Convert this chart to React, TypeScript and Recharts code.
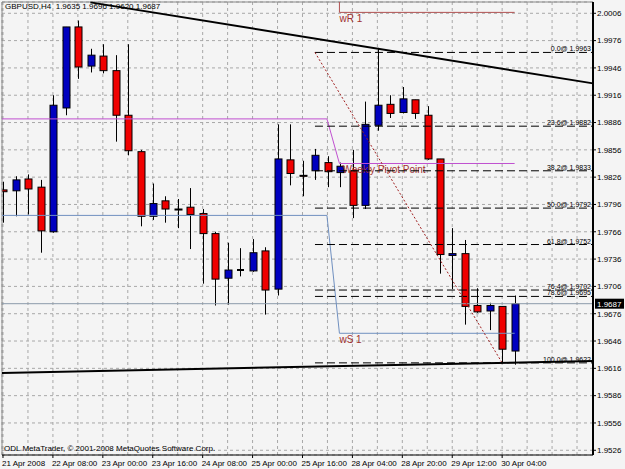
import { ComposedChart, Bar, XAxis, YAxis, CartesianGrid, ReferenceLine } from 'recharts';

// H4 bars, 21 Apr 16:00 .. 30 Apr 08:00
const opens = [
  1.9812, 1.9811, 1.9824, 1.9815, 1.9766, 1.9902, 1.9991, 1.9948, 1.9959, 1.9943,
  1.9894, 1.9854, 1.9783, 1.9800, 1.9791, 1.9793, 1.9786, 1.9764, 1.9715, 1.9724,
  1.9723, 1.9745, 1.9703, 1.9845, 1.9828, 1.9833, 1.9842, 1.9831, 1.9833, 1.9795,
  1.9883, 1.9906, 1.9897, 1.9911, 1.9894, 1.9846, 1.9740, 1.9742, 1.9685, 1.9679,
  1.9684, 1.9635,
];
const highs = [
  1.9821, 1.9827, 1.9829, 1.9823, 1.9916, 1.9991, 1.9998, 1.9967, 1.9972, 1.9960,
  1.9972, 1.9856, 1.9819, 1.9805, 1.9802, 1.9814, 1.9791, 1.9766, 1.9754, 1.9748,
  1.9758, 1.9749, 1.9884, 1.9884, 1.9844, 1.9857, 1.9849, 1.9842, 1.9856, 1.9909,
  1.9968, 1.9916, 1.9925, 1.9911, 1.9904, 1.9846, 1.9770, 1.9757, 1.9704, 1.9688,
  1.9684, 1.9696,
];
const lows = [
  1.9776, 1.9783, 1.9785, 1.9743, 1.9765, 1.9894, 1.9934, 1.9941, 1.9940, 1.9865,
  1.9850, 1.9772, 1.9779, 1.9776, 1.9770, 1.9747, 1.9709, 1.9685, 1.9686, 1.9717,
  1.9722, 1.9675, 1.9696, 1.9817, 1.9805, 1.9823, 1.9815, 1.9815, 1.9781, 1.9791,
  1.9877, 1.9891, 1.9896, 1.9890, 1.9845, 1.9720, 1.9703, 1.9664, 1.9677, 1.9658,
  1.9622, 1.9620,
];
const closes = [
  1.9810, 1.9823, 1.9813, 1.9767, 1.9905, 1.9991, 1.9947, 1.9960, 1.9943, 1.9894,
  1.9855, 1.9783, 1.9797, 1.9791, 1.9790, 1.9785, 1.9764, 1.9714, 1.9724, 1.9724,
  1.9743, 1.9702, 1.9846, 1.9830, 1.9827, 1.9850, 1.9832, 1.9838, 1.9795, 1.9884,
  1.9905, 1.9896, 1.9912, 1.9896, 1.9846, 1.9741, 1.9742, 1.9684, 1.9678, 1.9685,
  1.9637, 1.9687,
];

const timeLabels = [
  '21 Apr 2008', '22 Apr 08:00', '23 Apr 00:00', '23 Apr 16:00', '24 Apr 08:00', '25 Apr 00:00',
  '25 Apr 16:00', '28 Apr 04:00', '28 Apr 20:00', '29 Apr 12:00', '30 Apr 04:00',
];

const priceTicks = [
  2.0006, 1.9976, 1.9946, 1.9916, 1.9886, 1.9856, 1.9826, 1.9796, 1.9766, 1.9736,
  1.9706, 1.9676, 1.9646, 1.9616, 1.9586, 1.9556, 1.9526,
];

const fibRatios = ['0.0', '23.6', '38.2', '50.0', '61.8', '76.4', '78.6', '100.0'];
const fibPrices = [1.9963, 1.9882, 1.9833, 1.9792, 1.9752, 1.9702, 1.9695, 1.9622];

// weekly pivot levels: previous week, current week
const pivotLevels = [1.9890, 1.9841];
const wS1Levels = [1.9784, 1.96545];
const wR1Level = 2.0007;

const lastPrice = 1.9687;

const xDomain = [-0.08, 47.28];
const yDomain = [1.95208, 2.00184];
const weekStart = 26.96;

const data = opens.map((o, i) => ({
  i,
  open: o,
  high: highs[i],
  low: lows[i],
  close: closes[i],
  range: [lows[i], highs[i]],
}));

const FONT = '"Liberation Sans", Arial, sans-serif';

const Candle = (props: any) => {
  const { x, y, width, height, payload } = props;
  const { open, close, high, low } = payload;
  const cx = Math.round(x + width / 2) + 0.5;
  const span = high - low;
  const py = (p: number) => (span > 0 ? y + ((high - p) / span) * height : y);
  const top = py(Math.max(open, close));
  const bot = py(Math.min(open, close));
  const hw = 3.5;
  if (Math.abs(open - close) < 0.00005) {
    return (
      <g>
        <line x1={cx} x2={cx} y1={y} y2={y + height} stroke="#000" strokeWidth={1} />
        <line x1={cx - hw} x2={cx + hw} y1={top} y2={top} stroke="#000" strokeWidth={2} />
      </g>
    );
  }
  return (
    <g>
      <line x1={cx} x2={cx} y1={y} y2={y + height} stroke="#000" strokeWidth={1} />
      <rect
        x={cx - hw}
        y={top}
        width={hw * 2}
        height={Math.max(bot - top, 1)}
        fill={close > open ? '#0000bf' : '#f00000'}
        stroke="#000"
        strokeWidth={1}
      />
    </g>
  );
};

const TimeTick = (props: any) => {
  const { x, y, payload } = props;
  const v = payload.value;
  if (v % 4 !== 0 || v / 4 >= timeLabels.length) return <g />;
  return (
    <g>
      <line x1={x} x2={x} y1={y - 5} y2={y - 2} stroke="#000" />
      <text x={x - 1} y={y + 6} fontSize={8} fontFamily={FONT} fill="#000">
        {timeLabels[v / 4]}
      </text>
    </g>
  );
};

const fibLabel = (text: string) => (p: any) => {
  const vb = p.viewBox;
  return (
    <text x={vb.x + vb.width - 2} y={vb.y - 1} textAnchor="end" fontSize={7} fontFamily={FONT} fill="#000">
      {text}
    </text>
  );
};

const belowLabel = (text: string, dx: number) => (p: any) => {
  const vb = p.viewBox;
  return (
    <text x={vb.x + dx} y={vb.y + 10} fontSize={10} fontFamily={FONT} fill="#a03030">
      {text}
    </text>
  );
};

const priceBox = (p: any) => {
  const vb = p.viewBox;
  const y = vb.y;
  return (
    <g>
      <rect x={vb.x + vb.width + 2} y={y - 5} width={29} height={10} fill="#000" />
      <text x={vb.x + vb.width + 4} y={y + 3} fontSize={8} fontFamily={FONT} fill="#fff">
        {lastPrice.toFixed(4)}
      </text>
    </g>
  );
};

const gridTicks = Array.from({ length: 24 }, (_, k) => k * 2);

export default function App() {
  return (
    <div style={{ position: 'absolute', left: 0, top: 0, width: 625, height: 469, background: '#f4f4f4' }}>
      <ComposedChart
        width={625}
        height={469}
        data={data}
        margin={{ top: 2, right: 0, bottom: 0, left: 2 }}
      >
        <CartesianGrid stroke="#a8a8a8" strokeDasharray="3 3" />
        <XAxis
          dataKey="i"
          type="number"
          domain={xDomain}
          allowDataOverflow
          ticks={gridTicks}
          interval={0}
          height={14}
          tickSize={3}
          tickLine={false}
          tick={<TimeTick />}
          axisLine={{ stroke: '#000', strokeWidth: 1 }}
        />
        <YAxis
          orientation="right"
          type="number"
          domain={yDomain}
          allowDataOverflow
          ticks={priceTicks}
          interval={0}
          width={32}
          tickSize={3}
          tickMargin={1}
          tickLine={{ stroke: '#000' }}
          axisLine={{ stroke: '#000', strokeWidth: 2 }}
          tick={{ fontSize: 8, fontFamily: FONT, fill: '#000' }}
          tickFormatter={(v: number) => v.toFixed(4)}
        />
        <ReferenceLine y={yDomain[1]} stroke="#888" />
        <ReferenceLine x={xDomain[0]} stroke="#888" />

        {/* last price line */}
        <ReferenceLine y={lastPrice} stroke="#8c9bab" label={priceBox} />

        {/* weekly pivot */}
        <ReferenceLine segment={[{ x: xDomain[0], y: pivotLevels[0] }, { x: weekStart - 1, y: pivotLevels[0] }]} stroke="#c050d0" />
        <ReferenceLine segment={[{ x: weekStart - 1, y: pivotLevels[0] }, { x: weekStart, y: pivotLevels[1] }]} stroke="#c050d0" />
        <ReferenceLine
          segment={[{ x: weekStart, y: pivotLevels[1] }, { x: 41, y: pivotLevels[1] }]}
          stroke="#c050d0"
          label={belowLabel('Weekly Pivot Point', 3)}
        />

        {/* wS1 */}
        <ReferenceLine segment={[{ x: xDomain[0], y: wS1Levels[0] }, { x: weekStart - 1, y: wS1Levels[0] }]} stroke="#7090c0" />
        <ReferenceLine segment={[{ x: weekStart - 1, y: wS1Levels[0] }, { x: weekStart, y: wS1Levels[1] }]} stroke="#7090c0" />
        <ReferenceLine
          segment={[{ x: weekStart, y: wS1Levels[1] }, { x: 41, y: wS1Levels[1] }]}
          stroke="#7090c0"
          label={belowLabel('wS 1', 0)}
        />

        {/* wR1 */}
        <ReferenceLine segment={[{ x: weekStart, y: yDomain[1] }, { x: weekStart, y: wR1Level }]} stroke="#b05050" />
        <ReferenceLine
          segment={[{ x: weekStart, y: wR1Level }, { x: 41, y: wR1Level }]}
          stroke="#b05050"
          label={belowLabel('wR 1', 0)}
        />

        {/* fibonacci retracement */}
        {fibPrices.map((p, k) => (
          <ReferenceLine
            key={'fib' + k}
            segment={[{ x: 25, y: p }, { x: xDomain[1], y: p }]}
            stroke="#000"
            strokeDasharray="8 4"
            label={fibLabel(`${fibRatios[k]}@ ${p.toFixed(4)}`)}
          />
        ))}
        <ReferenceLine
          segment={[{ x: 25, y: fibPrices[0] }, { x: 40, y: fibPrices[7] }]}
          stroke="#a02020"
          strokeDasharray="2 2"
        />

        {/* trend lines */}
        <ReferenceLine segment={[{ x: 7, y: 2.0018 }, { x: xDomain[1], y: 1.9929 }]} stroke="#000" strokeWidth={2} />
        <ReferenceLine segment={[{ x: xDomain[0], y: 1.9611 }, { x: xDomain[1], y: 1.9624 }]} stroke="#000" strokeWidth={2} />

        <Bar dataKey="range" barSize={7} shape={<Candle />} isAnimationActive={false} />
      </ComposedChart>
      <div
        style={{ position: 'absolute', left: 5, top: 2, fontSize: 8, fontFamily: FONT, color: '#000', whiteSpace: 'nowrap' }}
      >
        GBPUSD,H4&nbsp; 1.9635 1.9696 1.9620 1.9687
      </div>
      <div
        style={{ position: 'absolute', left: 4, top: 444, fontSize: 8, fontFamily: FONT, color: '#000', whiteSpace: 'nowrap' }}
      >
        ODL MetaTrader, © 2001-2008 MetaQuotes Software Corp.
      </div>
    </div>
  );
}
